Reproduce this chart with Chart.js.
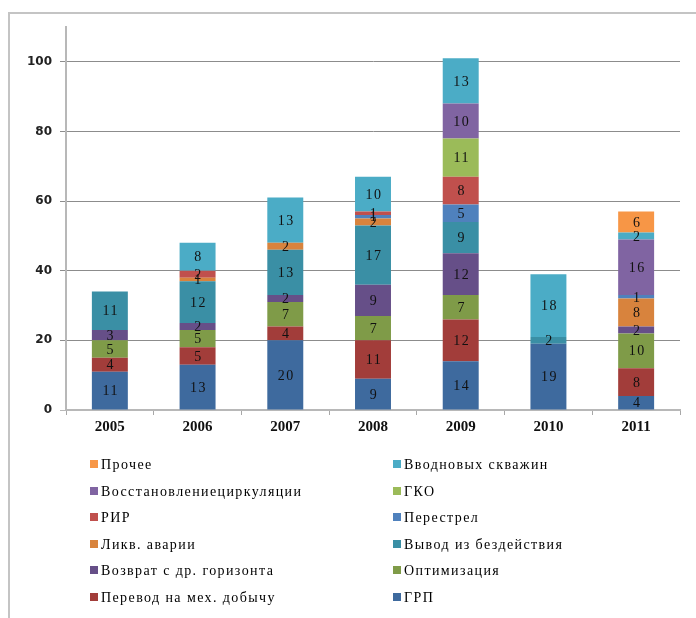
<!DOCTYPE html>
<html>
<head>
<meta charset="utf-8">
<script src="https://cdn.jsdelivr.net/npm/chart.js@4/dist/chart.umd.min.js"></script>
<style>
  html,body{margin:0;padding:0;background:#fff;}
  #wrap{position:relative;width:696px;height:618px;overflow:hidden;}
  #frame{position:absolute;left:8px;top:12px;width:720px;height:640px;border:2px solid #c4c4c4;box-sizing:border-box;}
  #chart{position:absolute;left:0;top:0;}
  #legend{position:absolute;left:0;top:0;width:696px;height:618px;pointer-events:none;
    font-family:"Liberation Serif",serif;font-size:14px;color:#000;letter-spacing:1.4px;}
  .li{position:absolute;height:16px;line-height:16px;white-space:nowrap;}
  .li i{display:inline-block;width:8px;height:8px;margin-right:3px;vertical-align:1px;}
</style>
</head>
<body>
<div id="wrap">
  <div id="frame"></div>
  <canvas id="chart" width="696" height="618"></canvas>
  <div id="legend"></div>
</div>
<script>
/* stacked columns 2005-2011, series listed bottom to top */
const years = ['2005','2006','2007','2008','2009','2010','2011'];

const seriesNames = [
  'ГРП',
  'Перевод на мех. добычу',
  'Оптимизация',
  'Возврат с др. горизонта',
  'Вывод из бездействия',
  'Ликв. аварии',
  'Перестрел',
  'РИР',
  'ГКО',
  'Восстановлениециркуляции',
  'Вводновых скважин',
  'Прочее'
];

const grp        = [11, 13, 20,  9, 14, 19,  4];
const perevod    = [ 4,  5,  4, 11, 12,  0,  8];
const optim      = [ 5,  5,  7,  7,  7,  0, 10];
const vozvrat    = [ 3,  2,  2,  9, 12,  0,  2];
const vyvod      = [11, 12, 13, 17,  9,  2,  0];
const likv       = [ 0,  1,  2,  2,  0,  0,  8];
const perestrel  = [ 0,  0,  0,  1,  5,  0,  1];
const rir        = [ 0,  2,  0,  1,  8,  0,  0];
const gko        = [ 0,  0,  0,  0, 11,  0,  0];
const vosst      = [ 0,  0,  0,  0, 10,  0, 16];
const vvod       = [ 0,  8, 13, 10, 13, 18,  2];
const prochee    = [ 0,  0,  0,  0,  0,  0,  6];

const yTicks = [0, 20, 40, 60, 80, 100];

const seriesData = [grp, perevod, optim, vozvrat, vyvod, likv, perestrel, rir, gko, vosst, vvod, prochee];
const colors = ['#3e6a9e','#a23d3a','#7f9b48','#664f88','#3a8fa5','#d8833d',
                '#4f81bd','#c0504d','#9bbb59','#8064a2','#4bacc6','#f79646'];

const datasets = seriesNames.map((name,i)=>({
  label: name,
  data: seriesData[i],
  backgroundColor: colors[i],
  borderWidth: 0,
  barPercentage: 0.41,
  categoryPercentage: 1
}));

// numbers inside the segments
const valueLabels = {
  id:'valueLabels',
  afterDatasetsDraw(chart){
    const ctx = chart.ctx;
    ctx.save();
    ctx.font = '14px "Liberation Serif", serif';
    ctx.letterSpacing = '1.5px';
    ctx.fillStyle = '#111';
    ctx.textAlign = 'center';
    ctx.textBaseline = 'middle';
    chart.data.datasets.forEach((ds,i)=>{
      const meta = chart.getDatasetMeta(i);
      meta.data.forEach((el,j)=>{
        const v = ds.data[j];
        if(!v) return;
        ctx.fillText(String(v), el.x + 1, (el.y+el.base)/2 + 1);
      });
    });
    ctx.restore();
  }
};

new Chart(document.getElementById('chart'), {
  type:'bar',
  data:{ labels: years, datasets },
  plugins:[valueLabels],
  options:{
    responsive:false,
    animation:false,
    events:[],
    layout:{ padding:{ left:10, right:16, top:27, bottom:180 } },
    plugins:{ legend:{display:false}, tooltip:{enabled:false} },
    scales:{
      x:{
        stacked:true,
        grid:{ drawOnChartArea:false, drawTicks:true, tickLength:5, color:'#a8a8a8', offset:true },
        border:{ color:'#b8b8b8', width:2 },
        ticks:{ font:{ family:'"Liberation Serif", serif', size:15, weight:'bold' }, color:'#111', padding:3 },
        afterFit(s){ s.height = 28; }
      },
      y:{
        stacked:true,
        min:0, max:110,
        afterBuildTicks(s){ s.ticks = yTicks.map(v=>({value:v})); },
        grid:{ color:(c)=> c.tick && c.tick.value===0 ? '#b8b8b8' : '#8c8c8c', tickLength:6 },
        border:{ color:'#b8b8b8', width:2 },
        ticks:{ font:{ family:'"DejaVu Sans", sans-serif', size:12, weight:'bold' }, color:'#222', padding:8 },
        afterFit(s){ s.width = 56; }
      }
    }
  }
});

// two-column legend, reversed series order like the original
const legendEl = document.getElementById('legend');
const order = seriesNames.map((_,i)=>i).reverse();
order.forEach((idx,k)=>{
  const row = Math.floor(k/2), col = k%2;
  const d = document.createElement('div');
  d.className = 'li';
  d.style.left = (col===0 ? 90 : 393) + 'px';
  d.style.top = (457 + row*26.5) + 'px';
  d.innerHTML = `<i style="background:${colors[idx]}"></i>${seriesNames[idx]}`;
  legendEl.appendChild(d);
});
</script>
</body>
</html>
